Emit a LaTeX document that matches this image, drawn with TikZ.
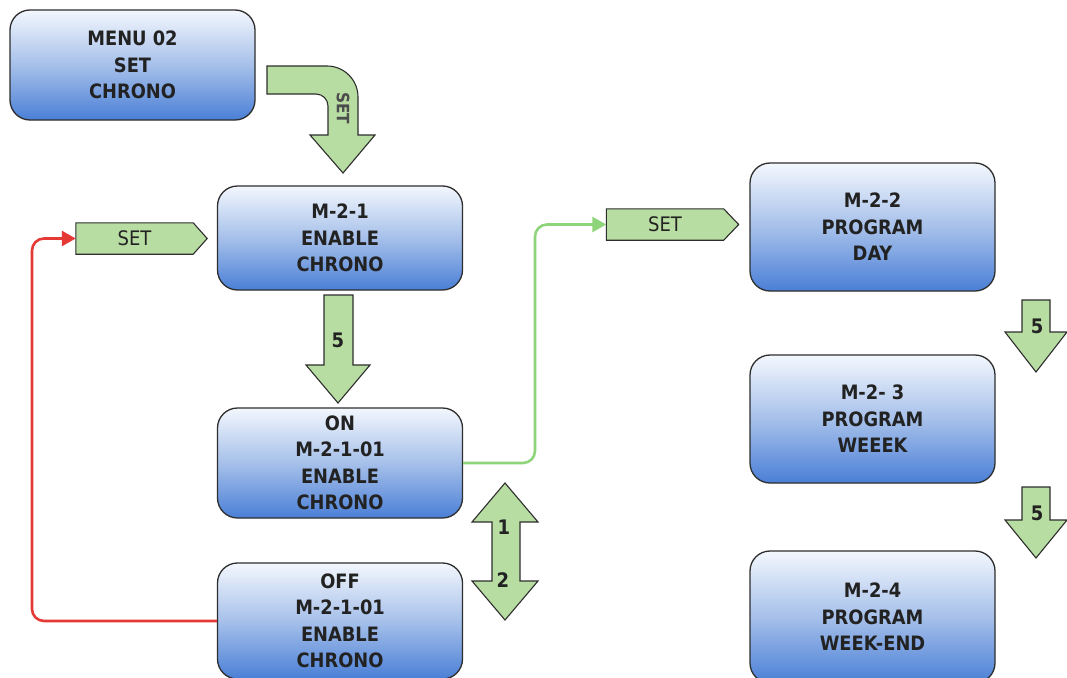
\documentclass[tikz,border=0pt]{standalone}
\usepackage{fontspec}
\setmainfont{DejaVu Sans Condensed}
\usetikzlibrary{arrows.meta}
\definecolor{boxtop}{HTML}{F3F7FD}
\definecolor{boxmid}{HTML}{A6C0EA}
\definecolor{boxbot}{HTML}{4A7FD6}
\definecolor{arrfill}{HTML}{B8DDA2}
\definecolor{edge}{HTML}{2E2E2E}
\definecolor{txt}{HTML}{222222}
\definecolor{redline}{HTML}{E53935}
\definecolor{greenline}{HTML}{8ED47A}
\begin{document}
\begin{tikzpicture}[x=1pt,y=-1pt,
  menubox/.style={draw=edge, line width=1.3pt, rounded corners=20pt,
    top color=boxtop, bottom color=boxbot, middle color=boxmid,
    minimum width=245pt, inner sep=0pt, align=center, text=txt,
    font=\bfseries\fontsize{19.8}{26.5}\selectfont},
  bigarrow/.style={draw=edge, line width=1.1pt, fill=arrfill, line join=miter},
  tagbody/.style={minimum width=117pt, minimum height=31pt, inner sep=0pt,
    text=txt, font=\fontsize{20}{22}\selectfont},
  arrlabel/.style={text=txt, font=\bfseries\fontsize{20}{22}\selectfont, inner sep=0pt},
  link/.style={line width=2.6pt, rounded corners=12pt, -{Triangle[length=14pt,width=15pt]}}
]
\useasboundingbox[fill=white] (0,0) rectangle (1067,677);

% boxes
\node[menubox, minimum height=110pt] (menu) at (132.5,65) {MENU 02\\SET\\CHRONO};
\node[menubox, minimum height=104pt] (m21) at (340,238) {M-2-1\\ENABLE\\CHRONO};
\node[menubox, minimum height=110pt] (on) at (340,463) {ON\\M-2-1-01\\ENABLE\\CHRONO};
\node[menubox, minimum height=116pt] (off) at (340,621) {OFF\\M-2-1-01\\ENABLE\\CHRONO};
\node[menubox, minimum height=128pt] (m22) at (872.5,227) {M-2-2\\PROGRAM\\DAY};
\node[menubox, minimum height=128pt] (m23) at (872.5,419) {M-2- 3\\PROGRAM\\WEEEK};
\node[menubox, minimum height=132pt] (m24) at (872.5,617) {M-2-4\\PROGRAM\\WEEK-END};

% curved SET arrow
\draw[bigarrow] (267,66) -- (327,66) .. controls (344.1,66) and (358,79.9) .. (358,97)
  -- (358,135) -- (375,135) -- (343,173) -- (310,135) -- (328,135) -- (328,106)
  .. controls (328,99.4) and (322.6,94) .. (316,94) -- (267,94) -- cycle;
\node[rotate=-90, text=black!70, font=\bfseries\fontsize{17}{18}\selectfont, inner sep=0pt] (setc) at (343,108) {SET};

% arrow 5 between M-2-1 and ON
\draw[bigarrow] (324,295) -- (353,295) -- (353,365) -- (370,365) -- (338,403)
  -- (306,365) -- (324,365) -- cycle;
\node[arrlabel] (l5a) at (338,340) {5};

% double arrow 1/2
\draw[bigarrow] (505,483) -- (538,522) -- (520,522) -- (520,581) -- (538,581)
  -- (505,620) -- (472,581) -- (492,581) -- (492,522) -- (472,522) -- cycle;
\node[arrlabel] (l1) at (504,527) {1};
\node[arrlabel] (l2) at (503,580) {2};

% right arrows 5
\draw[bigarrow] (1022,300) -- (1050,300) -- (1050,332) -- (1067,332) -- (1036,372)
  -- (1005,332) -- (1022,332) -- cycle;
\node[arrlabel] (l5b) at (1037,326) {5};
\draw[bigarrow] (1022,487) -- (1050,487) -- (1050,520) -- (1067,520) -- (1036,558)
  -- (1005,520) -- (1022,520) -- cycle;
\node[arrlabel] (l5c) at (1037,513) {5};

% SET tags
\node[tagbody] (tag1) at (134.5,238.5) {};
\draw[bigarrow] (tag1.north west) -- (tag1.north east) -- ([xshift=14pt]tag1.east)
  -- (tag1.south east) -- (tag1.south west) -- cycle;
\node[tagbody] at (tag1) {SET};
\node[tagbody] (tag2) at (665,224.5) {};
\draw[bigarrow] (tag2.north west) -- (tag2.north east) -- ([xshift=15pt]tag2.east)
  -- (tag2.south east) -- (tag2.south west) -- cycle;
\node[tagbody] at (tag2) {SET};

% connectors
\draw[link, draw=redline] (off.west) -- (32,621) -- (32,238.5) -- (tag1.west);
\draw[link, draw=greenline] (on.east) -- (535,463) -- (535,224.5) -- (tag2.west);
\end{tikzpicture}
\end{document}
